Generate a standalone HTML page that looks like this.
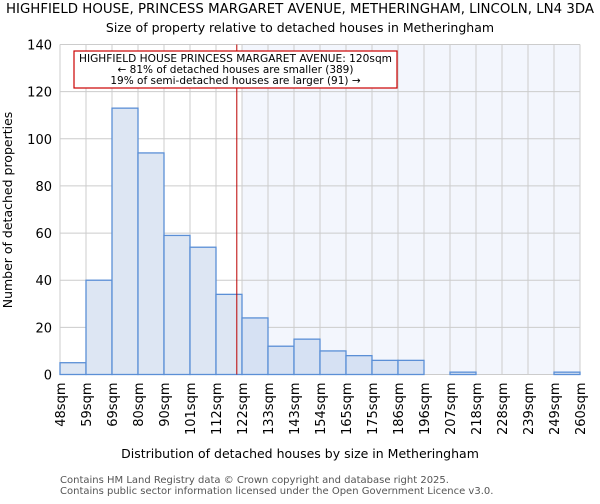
<!DOCTYPE html>
<html><head><meta charset="utf-8"><style>
body{margin:0;background:#fff;font-family:"DejaVu Sans","Liberation Sans",sans-serif;}
</style></head><body>
<svg id="chart" width="600" height="500" xmlns="http://www.w3.org/2000/svg" font-family="DejaVu Sans, Liberation Sans, sans-serif">
<text x="300" y="13" text-anchor="middle" font-size="13.2" textLength="588" lengthAdjust="spacingAndGlyphs">HIGHFIELD HOUSE, PRINCESS MARGARET AVENUE, METHERINGHAM, LINCOLN, LN4 3DA</text>
<text x="300" y="32" text-anchor="middle" font-size="12.5">Size of property relative to detached houses in Metheringham</text>
<g id="plot"></g>
<text x="12" y="210" transform="rotate(-90 12 210)" text-anchor="middle" font-size="12.5">Number of detached properties</text>
<text x="300" y="458" text-anchor="middle" font-size="12.5">Distribution of detached houses by size in Metheringham</text>
<text x="60" y="483" font-size="10" fill="#555">Contains HM Land Registry data © Crown copyright and database right 2025.</text>
<text x="60" y="494" font-size="10" fill="#555">Contains public sector information licensed under the Open Government Licence v3.0.</text>
</svg>
<script>
const tickLabels=["48sqm","59sqm","69sqm","80sqm","90sqm","101sqm","112sqm","122sqm","133sqm","143sqm","154sqm","165sqm","175sqm","186sqm","196sqm","207sqm","218sqm","228sqm","239sqm","249sqm","260sqm"];
const counts=[5,40,113,94,59,54,34,24,12,15,10,8,6,6,0,1,0,0,0,1];
const yTicks=[0,20,40,60,80,100,120,140];
const markerBin=6.8;
const L=60,R=580,T=44.5,B=374.5,yMax=140;
const nb=counts.length,bw=(R-L)/nb;
const xs=i=>L+i*bw;
const ys=v=>B-(v/yMax)*(B-T);
const NS="http://www.w3.org/2000/svg";
const g=document.getElementById('plot');
function mk(tag,a){const e=document.createElementNS(NS,tag);for(const k in a)e.setAttribute(k,a[k]);g.appendChild(e);return e;}
const mx=xs(markerBin);
const sh=mk('rect',{x:xs(Math.ceil(markerBin)),y:T,width:R-xs(Math.ceil(markerBin)),height:B-T,fill:'#f3f6fd'});


yTicks.forEach(v=>{
 const l=mk('line',{x1:L,x2:R,y1:ys(v),y2:ys(v),stroke:'#ccc','stroke-width':1});
 
 
 const t=mk('text',{x:L-8,y:ys(v)+5,'text-anchor':'end','font-size':13});
 t.textContent=v;
 
 
});
tickLabels.forEach((s,i)=>{
 const l=mk('line',{x1:xs(i),x2:xs(i),y1:T,y2:B,stroke:'#ccc','stroke-width':1});
 
 
 const x=xs(i)+5,y=B+8;
 const t=mk('text',{x:x,y:y,transform:`rotate(-90 ${x} ${y})`,'text-anchor':'end','font-size':13});
 t.textContent=s;
 
 
});
counts.forEach((c,i)=>{
 if(c<=0)return;
 const r=mk('rect',{x:xs(i),y:ys(c),width:bw,height:B-ys(c),fill:i<Math.ceil(markerBin)?'#dde6f3':'#d6e1f3',stroke:'#5b8fd6','stroke-width':1.3});
 
 
});
const ml=mk('line',{x1:mx,x2:mx,y1:T,y2:B,stroke:'#b00','stroke-width':1});


const bx=mk('rect',{x:74,y:51,width:323,height:37,fill:'#fff',stroke:'#c00','stroke-width':1.2});


const ann=["HIGHFIELD HOUSE PRINCESS MARGARET AVENUE: 120sqm","← 81% of detached houses are smaller (389)","19% of semi-detached houses are larger (91) →"];
ann.forEach((s,i)=>{
 const t=mk('text',{x:235.5,y:62+i*11,'text-anchor':'middle','font-size':10.5});
 if(i===0){t.setAttribute('textLength',313);t.setAttribute('lengthAdjust','spacingAndGlyphs');}
 t.textContent=s;
 
 
});
</script>
</body></html>
